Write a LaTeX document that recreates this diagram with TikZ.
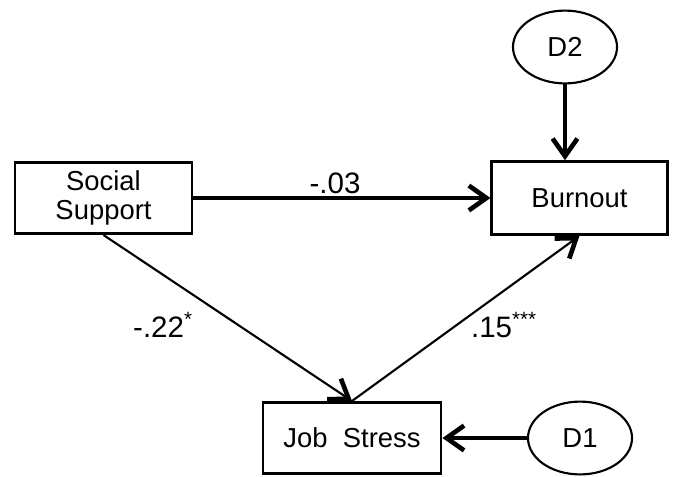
\documentclass[tikz,border=0pt]{standalone}
\usepackage{fontspec}
\setmainfont{Liberation Sans}
\usetikzlibrary{shapes.geometric, arrows.meta}

\begin{document}
\begin{tikzpicture}[x=0.025cm, y=-0.025cm,
  varbox/.style={draw, line width=2pt, minimum width=4.42cm, minimum height=1.78cm,
    align=center, inner sep=0pt, font=\fontsize{19.5}{21}\selectfont},
  errnode/.style={draw, ellipse, line width=1.5pt, minimum width=2.6cm, minimum height=1.82cm,
    inner sep=0pt, font=\fontsize{19.5}{21}\selectfont},
  effect/.style={line width=2.2pt, -{Straight Barb[length=0.44cm, width=0.62cm, line width=3.3pt]}},
  coef/.style={font=\fontsize{21}{24}\selectfont}]

\useasboundingbox (0,0) rectangle (675,476);

% Variables
\node[varbox] (ss) at (103.5,198) {Social\\Support};
\node[varbox, minimum width=4.38cm, minimum height=1.82cm] (burn) at (579.5,198) {Burnout};
\node[varbox, minimum width=4.45cm] (js) at (352,438) {Job\ \ Stress};

% Disturbances
\node[errnode] (d2) at (565,47) {D2};
\node[errnode] (d1) at (580,438) {D1};

% Paths
\draw[effect] (ss) -- (burn);                      % direct
\draw[effect, line width=1.5pt] (ss.south) -- (js.north);
\draw[effect, line width=1.5pt] (js.north) -- (burn.south);
\draw[effect] (d2) -- (d2 |- burn.north);
\draw[effect] (d1) -- (js);

% Coefficients
\node[coef] (c1) at (335,183) {-.03};
\node[coef] (c2) at (163,325) {-.22\textsuperscript{*}};
\node[coef] (c3) at (504,325) {.15\textsuperscript{***}};

\end{tikzpicture}
\end{document}
